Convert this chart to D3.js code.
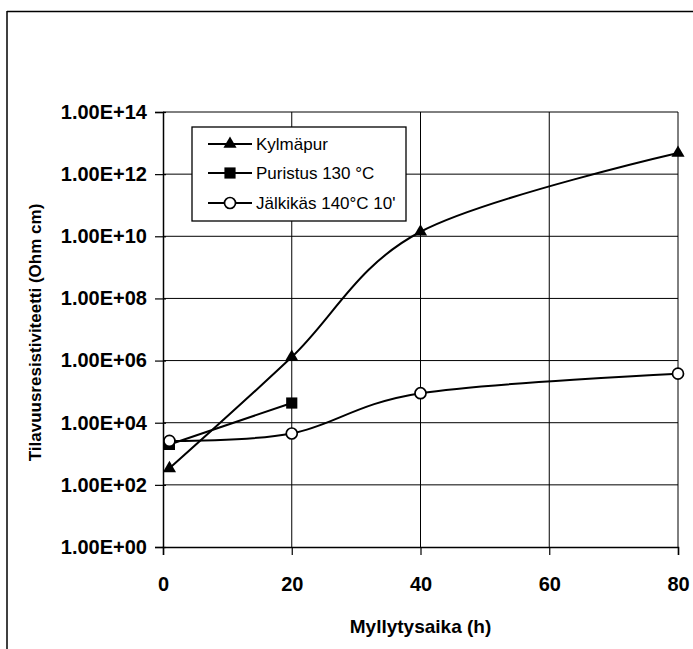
<!DOCTYPE html>
<html>
<head>
<meta charset="utf-8">
<script src="https://cdn.jsdelivr.net/npm/d3@7"></script>
<style>
  html, body { margin: 0; padding: 0; background: #fff; }
  svg { display: block; }
  text { font-family: "Liberation Sans", Arial, Helvetica, sans-serif; fill: #000; }
</style>
</head>
<body>
<svg id="chart" width="693" height="649"></svg>
<script>
// ---- data ----
const xValues = [1, 20, 40, 80];
const kylmapur = [340, 1.3e6, 1.4e10, 4.8e12];
const puristusX = [1, 20];
const puristus = [2.0e3, 4.3e4];
const jalkikasX = [1, 20, 40, 80];
const jalkikas = [2.6e3, 4.5e3, 8.9e4, 3.8e5];
const seriesNames = ["Kylmäpur", "Puristus 130 °C", "Jälkikäs 140°C 10'"];
const xTicks = [0, 20, 40, 60, 80];
const yTicks = [1e0, 1e2, 1e4, 1e6, 1e8, 1e10, 1e12, 1e14];
const xTitle = "Myllytysaika (h)";
const yTitle = "Tilavuusresistiviteetti (Ohm cm)";

// ---- layout ----
const svg = d3.select("#chart");
const pLeft = 163, pRight = 678, pTop = 112, pBottom = 547;

const x = d3.scaleLinear().domain([0, 80]).range([pLeft, pRight]);
const y = d3.scaleLog().domain([1, 1e14]).range([pBottom, pTop]);

// outer frame (top and left edges visible)
svg.append("line").attr("x1", 7).attr("x2", 693).attr("y1", 11.5).attr("y2", 11.5)
  .attr("stroke", "#000").attr("stroke-width", 1.5);
svg.append("line").attr("x1", 7).attr("x2", 7).attr("y1", 11).attr("y2", 649)
  .attr("stroke", "#000").attr("stroke-width", 1.5);

// gridlines
const grid = svg.append("g");
grid.selectAll(".hg").data(yTicks.slice(1)).enter().append("line")
  .attr("x1", pLeft).attr("x2", pRight)
  .attr("y1", d => y(d)).attr("y2", d => y(d))
  .attr("stroke", "#000").attr("stroke-width", 1);
grid.selectAll(".vg").data(xTicks.slice(1)).enter().append("line")
  .attr("x1", d => x(d)).attr("x2", d => x(d))
  .attr("y1", pTop).attr("y2", pBottom)
  .attr("stroke", "#000").attr("stroke-width", 1);

// axes
const fmt = d => "1.00E+" + String(Math.round(Math.log10(d))).padStart(2, "0");
const yAxis = d3.axisLeft(y).tickValues(yTicks).tickFormat(fmt).tickSize(8).tickPadding(8);
const yg = svg.append("g").attr("transform", `translate(${pLeft},0)`).call(yAxis);
const xAxis = d3.axisBottom(x).tickValues(xTicks).tickFormat(d3.format("d")).tickSize(8).tickPadding(22);
const xg = svg.append("g").attr("transform", `translate(0,${pBottom})`).call(xAxis);
[yg, xg].forEach(g => {
  g.select(".domain").attr("stroke", "#000").attr("stroke-width", 1.5);
  g.selectAll(".tick line").attr("stroke", "#000").attr("stroke-width", 1.2);
  g.selectAll(".tick text").attr("font-family", "Liberation Sans, Arial, sans-serif")
    .attr("font-size", 20).attr("font-weight", "bold").attr("fill", "#000");
});
// short tick stubs inside the y axis (cross marks)
yg.selectAll(".tick").append("line").attr("x1", 0).attr("x2", 3)
  .attr("stroke", "#000").attr("stroke-width", 1.2);

// axis titles
svg.append("text").attr("x", (pLeft + pRight) / 2).attr("y", 633)
  .attr("text-anchor", "middle").attr("font-size", 19).attr("font-weight", "bold").text(xTitle);
svg.append("text").attr("transform", `translate(41,${(pTop + pBottom) / 2 + 3}) rotate(-90)`)
  .attr("text-anchor", "middle").attr("font-size", 17).attr("font-weight", "bold").text(yTitle);

// lines
const smooth = d3.line().x(d => x(d[0])).y(d => y(d[1])).curve(d3.curveCardinal.tension(0));
const straight = d3.line().x(d => x(d[0])).y(d => y(d[1]));
const kData = xValues.map((v, i) => [v, kylmapur[i]]);
const pData = puristusX.map((v, i) => [v, puristus[i]]);
const jData = jalkikasX.map((v, i) => [v, jalkikas[i]]);

svg.append("path").attr("d", smooth(kData)).attr("fill", "none").attr("stroke", "#000").attr("stroke-width", 2);
svg.append("path").attr("d", straight(pData)).attr("fill", "none").attr("stroke", "#000").attr("stroke-width", 2);
svg.append("path").attr("d", smooth(jData)).attr("fill", "none").attr("stroke", "#000").attr("stroke-width", 2);

const tri = d3.symbol().type(d3.symbolTriangle).size(75);
const sq = d3.symbol().type(d3.symbolSquare).size(125);

function drawTri(g, cx, cy) {
  g.append("path").attr("d", tri()).attr("transform", `translate(${cx},${cy})`).attr("fill", "#000");
}
function drawSq(g, cx, cy) {
  g.append("path").attr("d", sq()).attr("transform", `translate(${cx},${cy})`).attr("fill", "#000");
}
function drawCirc(g, cx, cy) {
  g.append("circle").attr("cx", cx).attr("cy", cy).attr("r", 5.5)
    .attr("fill", "#fff").attr("stroke", "#000").attr("stroke-width", 1.7);
}
const marks = svg.append("g");
kData.forEach(d => drawTri(marks, x(d[0]), y(d[1])));
pData.forEach(d => drawSq(marks, x(d[0]), y(d[1])));
jData.forEach(d => drawCirc(marks, x(d[0]), y(d[1])));

// legend
const lg = svg.append("g");
lg.append("rect").attr("x", 192).attr("y", 127).attr("width", 214).attr("height", 94)
  .attr("fill", "#fff").attr("stroke", "#000").attr("stroke-width", 1.3);
const legendY = [144, 173, 203];
const drawers = [drawTri, drawSq, drawCirc];
seriesNames.forEach((name, i) => {
  lg.append("line").attr("x1", 208).attr("x2", 252).attr("y1", legendY[i]).attr("y2", legendY[i])
    .attr("stroke", "#000").attr("stroke-width", 2);
  drawers[i](lg, 230, legendY[i]);
  lg.append("text").attr("x", 256).attr("y", legendY[i]).attr("dy", "0.36em")
    .attr("font-size", 17).text(name);
});
</script>
</body>
</html>
